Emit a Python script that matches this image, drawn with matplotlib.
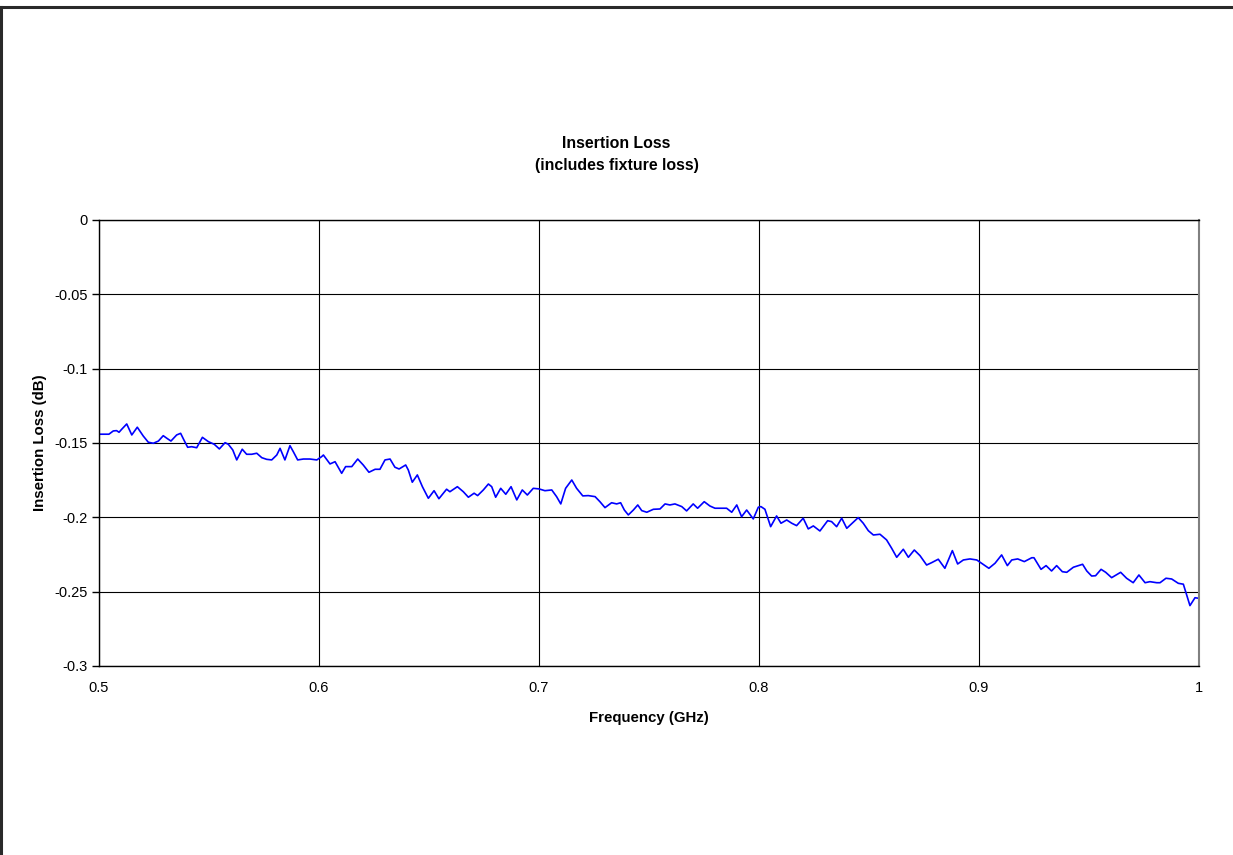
import matplotlib
matplotlib.use('Agg')
import matplotlib.pyplot as plt
from matplotlib.lines import Line2D

plt.rcParams['font.family'] = ['Liberation Sans', 'DejaVu Sans']

# frequency (GHz) and insertion loss (dB)
freq = [0.5000, 0.5045, 0.5065, 0.5080, 0.5091, 0.5103, 0.5126, 0.5149, 0.5174, 0.5201,
        0.5224, 0.5247, 0.5270, 0.5292, 0.5308, 0.5327, 0.5353, 0.5371, 0.5386, 0.5403,
        0.5421, 0.5444, 0.5470, 0.5497, 0.5524, 0.5547, 0.5573, 0.5588, 0.5608, 0.5626,
        0.5651, 0.5671, 0.5694, 0.5717, 0.5740, 0.5762, 0.5785, 0.5808, 0.5823, 0.5845,
        0.5868, 0.5883, 0.5903, 0.5929, 0.5959, 0.5990, 0.6012, 0.6020, 0.6050, 0.6073,
        0.6103, 0.6121, 0.6149, 0.6176, 0.6201, 0.6227, 0.6255, 0.6277, 0.6300, 0.6323,
        0.6345, 0.6364, 0.6394, 0.6406, 0.6424, 0.6447, 0.6470, 0.6497, 0.6523, 0.6545,
        0.6580, 0.6595, 0.6629, 0.6656, 0.6679, 0.6705, 0.6721, 0.6747, 0.6770, 0.6785,
        0.6803, 0.6826, 0.6849, 0.6873, 0.6899, 0.6924, 0.6947, 0.6974, 0.7000, 0.7027,
        0.7058, 0.7080, 0.7099, 0.7121, 0.7149, 0.7171, 0.7199, 0.7224, 0.7255, 0.7277,
        0.7300, 0.7330, 0.7353, 0.7371, 0.7388, 0.7406, 0.7429, 0.7449, 0.7467, 0.7490,
        0.7520, 0.7550, 0.7573, 0.7595, 0.7618, 0.7649, 0.7671, 0.7701, 0.7721, 0.7751,
        0.7777, 0.7800, 0.7853, 0.7876, 0.7899, 0.7921, 0.7944, 0.7974, 0.7997, 0.8009,
        0.8027, 0.8053, 0.8080, 0.8100, 0.8126, 0.8149, 0.8171, 0.8201, 0.8224, 0.8247,
        0.8277, 0.8312, 0.8330, 0.8353, 0.8376, 0.8399, 0.8429, 0.8451, 0.8474, 0.8497,
        0.8520, 0.8550, 0.8580, 0.8603, 0.8626, 0.8656, 0.8679, 0.8706, 0.8732, 0.8762,
        0.8785, 0.8815, 0.8845, 0.8879, 0.8903, 0.8929, 0.8959, 0.8990, 0.9045, 0.9073,
        0.9103, 0.9129, 0.9149, 0.9176, 0.9206, 0.9240, 0.9250, 0.9270, 0.9282, 0.9305,
        0.9330, 0.9353, 0.9379, 0.9399, 0.9429, 0.9471, 0.9490, 0.9512, 0.9530, 0.9555,
        0.9576, 0.9603, 0.9644, 0.9671, 0.9701, 0.9727, 0.9755, 0.9777, 0.9808, 0.9823,
        0.9850, 0.9876, 0.9906, 0.9929, 0.9944, 0.9959, 0.9982, 1.0000]

loss = [-0.1441, -0.1441, -0.1419, -0.1417, -0.1428, -0.1408, -0.1372, -0.1446, -0.1394, -0.1453,
        -0.1495, -0.1502, -0.1487, -0.1451, -0.1468, -0.1487, -0.1446, -0.1435, -0.1480, -0.1529,
        -0.1525, -0.1532, -0.1462, -0.1491, -0.1509, -0.1540, -0.1498, -0.1509, -0.1547, -0.1614,
        -0.1542, -0.1576, -0.1576, -0.1569, -0.1599, -0.1610, -0.1614, -0.1581, -0.1536, -0.1614,
        -0.1518, -0.1558, -0.1614, -0.1608, -0.1608, -0.1614, -0.1592, -0.1581, -0.1641, -0.1626,
        -0.1704, -0.1659, -0.1659, -0.1608, -0.1648, -0.1697, -0.1677, -0.1677, -0.1614, -0.1608,
        -0.1663, -0.1675, -0.1648, -0.1682, -0.1764, -0.1715, -0.1794, -0.1872, -0.1821, -0.1875,
        -0.1811, -0.1828, -0.1794, -0.1828, -0.1865, -0.1838, -0.1854, -0.1816, -0.1776, -0.1794,
        -0.1865, -0.1805, -0.1845, -0.1794, -0.1883, -0.1816, -0.1850, -0.1805, -0.1809, -0.1821,
        -0.1816, -0.1861, -0.1910, -0.1805, -0.1749, -0.1805, -0.1856, -0.1854, -0.1861, -0.1895,
        -0.1935, -0.1902, -0.1910, -0.1902, -0.1951, -0.1984, -0.1951, -0.1917, -0.1955, -0.1966,
        -0.1946, -0.1944, -0.1910, -0.1917, -0.1910, -0.1928, -0.1957, -0.1910, -0.1939, -0.1895,
        -0.1924, -0.1939, -0.1939, -0.1966, -0.1917, -0.1996, -0.1951, -0.2011, -0.1932, -0.1928,
        -0.1946, -0.2063, -0.1991, -0.2040, -0.2018, -0.2040, -0.2056, -0.2006, -0.2078, -0.2058,
        -0.2092, -0.2023, -0.2029, -0.2063, -0.2006, -0.2074, -0.2033, -0.2002, -0.2040, -0.2090,
        -0.2119, -0.2114, -0.2152, -0.2208, -0.2269, -0.2215, -0.2269, -0.2220, -0.2258, -0.2321,
        -0.2305, -0.2282, -0.2343, -0.2224, -0.2314, -0.2287, -0.2280, -0.2287, -0.2343, -0.2309,
        -0.2253, -0.2325, -0.2287, -0.2280, -0.2298, -0.2272, -0.2272, -0.2321, -0.2350, -0.2325,
        -0.2361, -0.2325, -0.2366, -0.2370, -0.2336, -0.2316, -0.2361, -0.2395, -0.2393, -0.2350,
        -0.2370, -0.2406, -0.2370, -0.2410, -0.2440, -0.2388, -0.2440, -0.2433, -0.2440, -0.2440,
        -0.2410, -0.2415, -0.2444, -0.2450, -0.2523, -0.2594, -0.2541, -0.2545]

x_ticks = [0.5, 0.6, 0.7, 0.8, 0.9, 1.0]
x_labels = ['0.5', '0.6', '0.7', '0.8', '0.9', '1']
y_ticks = [0, -0.05, -0.1, -0.15, -0.2, -0.25, -0.3]
y_labels = ['0', '-0.05', '-0.1', '-0.15', '-0.2', '-0.25', '-0.3']

fig = plt.figure(figsize=(12.33, 8.55), dpi=100)
ax = fig.add_axes([0.0803, 0.2211, 0.8921, 0.5216])

ax.plot(freq, loss, color='#0000ff', linewidth=1.2)

ax.set_xlim(0.5, 1.0)
ax.set_ylim(-0.3, 0)
ax.set_xticks(x_ticks)
ax.set_xticklabels(x_labels)
ax.set_yticks(y_ticks)
ax.set_yticklabels(y_labels)
ax.tick_params(axis='x', length=0, pad=11, labelsize=10.5)
ax.tick_params(axis='y', length=5, width=1, pad=3, labelsize=10.5)
ax.grid(True, color='black', linewidth=0.8)

for side in ['left', 'bottom', 'top']:
    ax.spines[side].set_color('black')
    ax.spines[side].set_linewidth(1.0)
ax.spines['right'].set_color('#808080')
ax.spines['right'].set_linewidth(1.5)

ax.set_xlabel('Frequency (GHz)', fontsize=10.8, fontweight='bold', labelpad=11)
ax.set_ylabel('Insertion Loss (dB)', fontsize=10.8, fontweight='bold', labelpad=5)

fig.text(0.5, 0.8193, 'Insertion Loss\n(includes fixture loss)', ha='center', va='center',
         fontsize=11.4, fontweight='bold', linespacing=1.55)

# outer frame (top and left only)
fig.add_artist(Line2D([0, 1], [0.9918, 0.9918], color='#2a2a2a', linewidth=2.2,
                      transform=fig.transFigure))
fig.add_artist(Line2D([0.0012, 0.0012], [0, 0.9918], color='#2a2a2a', linewidth=2.2,
                      transform=fig.transFigure))

fig.savefig('out.png', dpi=100)
